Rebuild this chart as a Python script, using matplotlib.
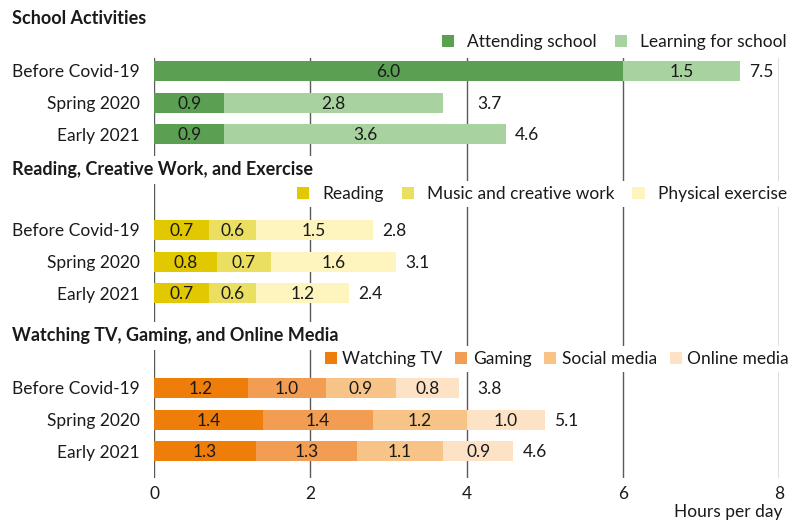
import matplotlib.pyplot as plt
from matplotlib.patches import Patch

# data
periods = ["Before Covid-19", "Spring 2020", "Early 2021"]

school_names = ["Attending school", "Learning for school"]
school_vals = [[6.0, 0.9, 0.9], [1.5, 2.8, 3.6]]
school_tot = [7.5, 3.7, 4.6]

creative_names = ["Reading", "Music and creative work", "Physical exercise"]
creative_vals = [[0.7, 0.8, 0.7], [0.6, 0.7, 0.6], [1.5, 1.6, 1.2]]
creative_tot = [2.8, 3.1, 2.4]

media_names = ["Watching TV", "Gaming", "Social media", "Online media"]
media_vals = [[1.2, 1.4, 1.3], [1.0, 1.4, 1.3], [0.9, 1.2, 1.1], [0.8, 1.0, 0.9]]
media_tot = [3.8, 5.1, 4.6]

panel_titles = ["School Activities", "Reading, Creative Work, and Exercise",
                "Watching TV, Gaming, and Online Media"]
x_ticks = [0, 2, 4, 6, 8]

# styles
school_colors = ["#5ba052", "#a8d3a0"]
creative_colors = ["#e2c800", "#ebdf62", "#fdf5bd"]
media_colors = ["#ef7d0a", "#f39d52", "#f8c387", "#fde2c6"]
TXT = "#1a1a1a"
GRID = "#5a5a5a"
FS = 12.5

plt.rcParams['font.family'] = ['Lato', 'DejaVu Sans']
plt.rcParams['font.size'] = FS
plt.rcParams['text.color'] = TXT

W, H = 806, 523
fig = plt.figure(figsize=(W / 100, H / 100), dpi=100)
# axes in pixel units (y measured from top)
ax = fig.add_axes([154 / W, 1 - 478 / H, (779 - 154) / W, (478 - 58) / H])
ax.set_xlim(0, 8)
ax.set_ylim(478, 58)
for s in ax.spines.values():
    s.set_visible(False)
ax.set_xticks(x_ticks)
ax.grid(axis='x', color=GRID, lw=1.0, zorder=0)
ax.set_axisbelow(True)
ax.tick_params(axis='both', length=0, labelsize=FS, colors=TXT)
ax.tick_params(axis='x', pad=6)
ax.tick_params(axis='y', pad=10)

panel_rows = [71, 230, 388]
pitch = 31.7
bar_h = 20

panels = [
    (school_names, school_vals, school_tot, school_colors),
    (creative_names, creative_vals, creative_tot, creative_colors),
    (media_names, media_vals, media_tot, media_colors),
]

ytick_pos, ytick_lab = [], []
for p, (names, vals, tots, cols) in enumerate(panels):
    ys = [panel_rows[p] + i * pitch for i in range(len(periods))]
    ytick_pos += ys
    ytick_lab += periods
    left = [0.0] * len(periods)
    for k, series in enumerate(vals):
        ax.barh(ys, series, left=left, height=bar_h, color=cols[k], zorder=2)
        for i, v in enumerate(series):
            ax.text(left[i] + v / 2, ys[i] + 1, f"{v:.1f}", ha='center',
                    va='center', fontsize=FS, color=TXT, zorder=3)
        left = [a + b for a, b in zip(left, series)]
    # totals, kept clear of the grid lines
    for i, t in enumerate(tots):
        x0 = left[i] + 0.12
        for g in x_ticks:
            if x0 - 0.05 < g < x0 + 0.35:
                x0 = g + 0.14
        ax.text(x0, ys[i] + 1, f"{t:.1f}", ha='left', va='center',
                fontsize=FS, color=TXT, zorder=3)

ax.set_yticks(ytick_pos, ytick_lab)

# panel titles
title_y = [19, 170, 336]
for t, y in zip(panel_titles, title_y):
    fig.text(12 / W, 1 - y / H, t, ha='left', va='center', fontsize=13,
             fontweight='bold', color=TXT,
             bbox=dict(facecolor='white', edgecolor='none', pad=4))

# legends
legend_y = [42, 194, 359]
legend_right = [792, 792, 794]
legend_pads = [(0.75, 1.05), (0.75, 1.05), (0.3, 0.75)]
for p, (names, vals, tots, cols) in enumerate(panels):
    handles = [Patch(facecolor=c, edgecolor='none') for c in cols]
    lg = fig.legend(handles, names, loc='center right',
                    bbox_to_anchor=(legend_right[p] / W, 1 - legend_y[p] / H),
                    ncol=len(names), frameon=True, fontsize=FS,
                    handlelength=0.7, handleheight=0.7,
                    handletextpad=legend_pads[p][0],
                    columnspacing=legend_pads[p][1],
                    borderpad=0.3, borderaxespad=0)
    lg.get_frame().set_facecolor('white')
    lg.get_frame().set_edgecolor('none')
    lg.get_frame().set_alpha(1)

fig.text(783 / W, 1 - 512 / H, "Hours per day", ha='right', va='center',
         fontsize=FS, color=TXT)

fig.savefig("out.png", dpi=100, facecolor='white')
